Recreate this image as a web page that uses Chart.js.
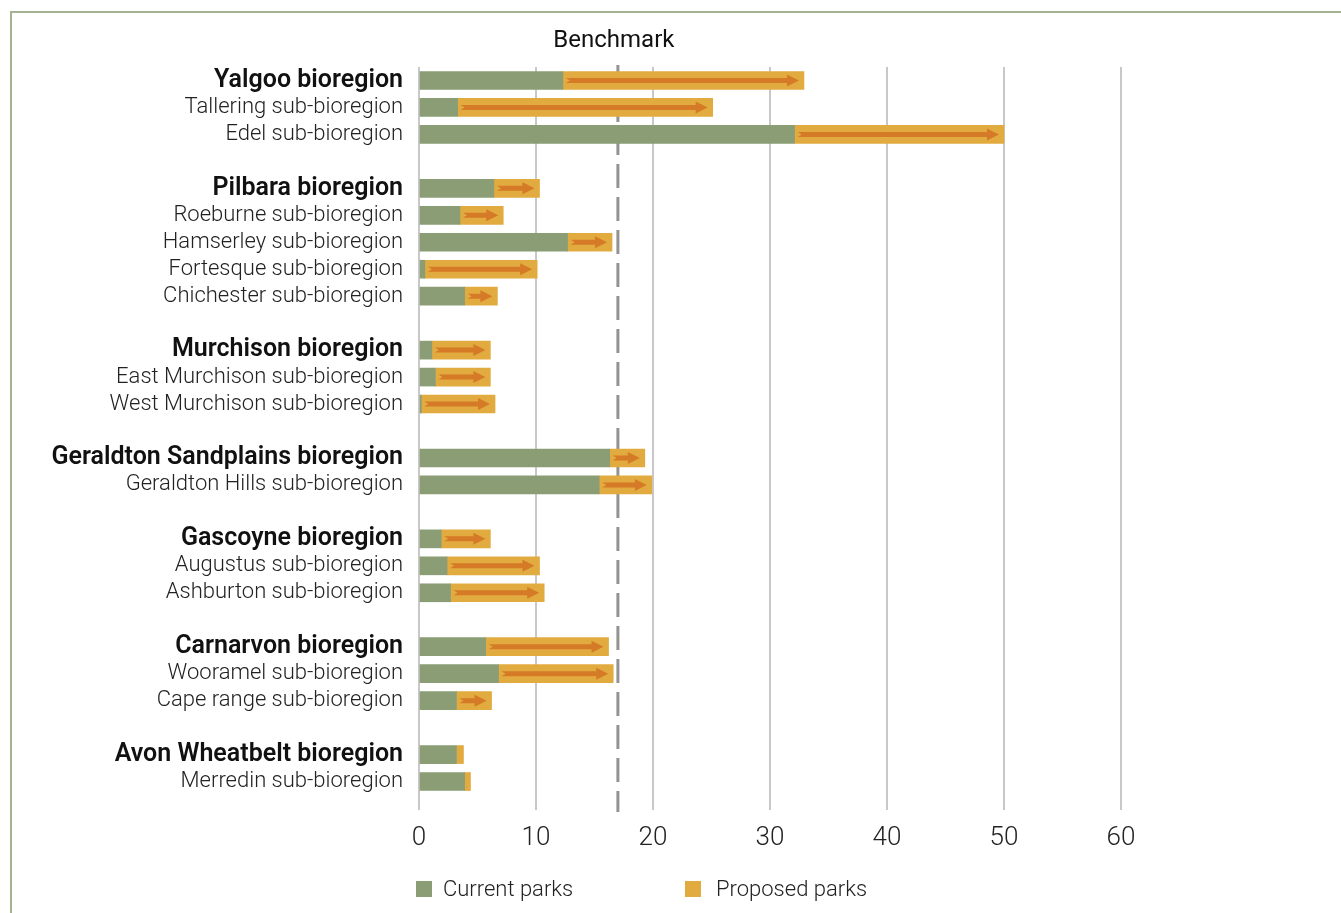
<!DOCTYPE html>
<html>
<head>
<meta charset="utf-8">
<script src="https://cdn.jsdelivr.net/npm/chart.js@4.4.1/dist/chart.umd.min.js"></script>
<style>
  body { margin: 0; background: #fff; font-family: Roboto, "Liberation Sans", sans-serif; }
  #wrap { position: relative; width: 1341px; height: 913px; }
  #frame { position: absolute; left: 10px; top: 11px; right: 0; bottom: 0;
           border-left: 2px solid #a3b28f; border-top: 2px solid #a3b28f; }
  canvas { position: absolute; left: 0; top: 0; }
  .leg { position: absolute; top: 876px; font-size: 22px; font-weight: 300; color: #222; }
  .leg span { display: inline-block; width: 16px; height: 16px; vertical-align: -1px; margin-right: 11px; }
</style>
</head>
<body>
<div id="wrap">
  <div id="frame"></div>
  <canvas id="myChart" width="1341" height="913"></canvas>
  <div class="leg" style="left:416px"><span style="background:#8a9d75"></span>Current parks</div>
  <div class="leg" style="left:685px"><span style="background:#e2ab40; margin-right:15px"></span>Proposed parks</div>
</div>
<script>
// blank labels are the spacer rows between groups
var regions = ['Yalgoo bioregion', 'Tallering sub-bioregion', 'Edel sub-bioregion', '',
  'Pilbara bioregion', 'Roeburne sub-bioregion', 'Hamserley sub-bioregion', 'Fortesque sub-bioregion', 'Chichester sub-bioregion', '',
  'Murchison bioregion', 'East Murchison sub-bioregion', 'West Murchison sub-bioregion', '',
  'Geraldton Sandplains bioregion', 'Geraldton Hills sub-bioregion', '',
  'Gascoyne bioregion', 'Augustus sub-bioregion', 'Ashburton sub-bioregion', '',
  'Carnarvon bioregion', 'Wooramel sub-bioregion', 'Cape range sub-bioregion', '',
  'Avon Wheatbelt bioregion', 'Merredin sub-bioregion']
var current = [12.3, 3.3, 32.1, null,
  6.4, 3.5, 12.7, 0.5, 3.9, null,
  1.1, 1.4, 0.2, null,
  16.3, 15.4, null,
  1.9, 2.4, 2.7, null,
  5.7, 6.8, 3.2, null,
  3.2, 3.9]
var proposed = [20.6, 21.8, 17.9, null,
  3.9, 3.7, 3.8, 9.6, 2.8, null,
  5.0, 4.7, 6.3, null,
  3.0, 4.5, null,
  4.2, 7.9, 8.0, null,
  10.5, 9.8, 3.0, null,
  0.6, 0.5]
var benchmark = 17
var xTicks = [0, 10, 20, 30, 40, 50, 60]

var FONT = 'Roboto, "Liberation Sans", sans-serif'

var extras = {
  id: 'extras',
  beforeDatasetsDraw: function(chart) {
    var c = chart.ctx, xs = chart.scales.x, a = chart.chartArea
    var bx = xs.getPixelForValue(benchmark)
    c.save()
    c.strokeStyle = '#939393'
    c.lineWidth = 3
    c.setLineDash([24, 9])
    c.beginPath()
    c.moveTo(bx, a.top - 2)
    c.lineTo(bx, a.bottom + 17)
    c.stroke()
    c.setLineDash([])
    c.fillStyle = '#111'
    c.font = '400 24px ' + FONT
    c.textAlign = 'center'
    c.textBaseline = 'middle'
    c.fillText('Benchmark', bx - 4, 41)
    c.restore()
  },
  afterDatasetsDraw: function(chart) {
    var c = chart.ctx
    var meta = chart.getDatasetMeta(1)
    c.save()
    meta.data.forEach(function(bar, i) {
      if (proposed[i] == null) return
      var x0 = Math.min(bar.base, bar.x) + 3
      var x1 = Math.max(bar.base, bar.x) - 5
      if (x1 - x0 < 20) return
      var y = bar.y
      var xh = x1 - 12
      c.fillStyle = '#d57a26'
      c.beginPath()
      c.moveTo(x0, y - 2.5)
      c.lineTo(xh, y - 2.5)
      c.lineTo(xh, y - 6)
      c.lineTo(x1, y)
      c.lineTo(xh, y + 6)
      c.lineTo(xh, y + 2.5)
      c.lineTo(x0, y + 2.5)
      c.lineTo(x0 + 4, y)
      c.closePath()
      c.fill()
    })
    c.restore()
  }
}

const ctx = document.getElementById('myChart')

new Chart(ctx, {
  type: 'bar',
  data: {
    labels: regions,
    datasets: [{
      label: 'Current parks',
      data: current,
      backgroundColor: '#8a9d75',
      barThickness: 18
    }, {
      label: 'Proposed parks',
      data: proposed,
      backgroundColor: '#e2ab40',
      barThickness: 18
    }]
  },
  options: {
    indexAxis: 'y',
    responsive: false,
    animation: false,
    layout: { padding: { top: 67, right: 220, bottom: 58, left: 0 } },
    plugins: { legend: { display: false }, tooltip: { enabled: false } },
    scales: {
      x: {
        stacked: true,
        min: 0,
        max: 60,
        afterBuildTicks: function(scale) {
          scale.ticks = xTicks.map(function(v) { return { value: v } })
        },
        afterFit: function(scale) { scale.height = 60 },
        border: { display: false },
        grid: { color: '#c8c8c8', lineWidth: 2, tickLength: 15 },
        ticks: { color: '#222', font: { family: FONT, size: 26, weight: 300 }, padding: 13 }
      },
      y: {
        stacked: true,
        afterFit: function(scale) { scale.width = 419 },
        border: { display: false },
        grid: { display: false },
        ticks: {
          autoSkip: false,
          padding: 8,
          color: function(c) { return regions[c.index].indexOf('sub-') < 0 ? '#111' : '#222' },
          font: function(c) {
            var main = regions[c.index].indexOf('sub-') < 0
            return main ? { family: FONT, size: 25, weight: 600 } : { family: FONT, size: 22, weight: 300 }
          }
        }
      }
    }
  },
  plugins: [extras]
})
</script>
</body>
</html>
